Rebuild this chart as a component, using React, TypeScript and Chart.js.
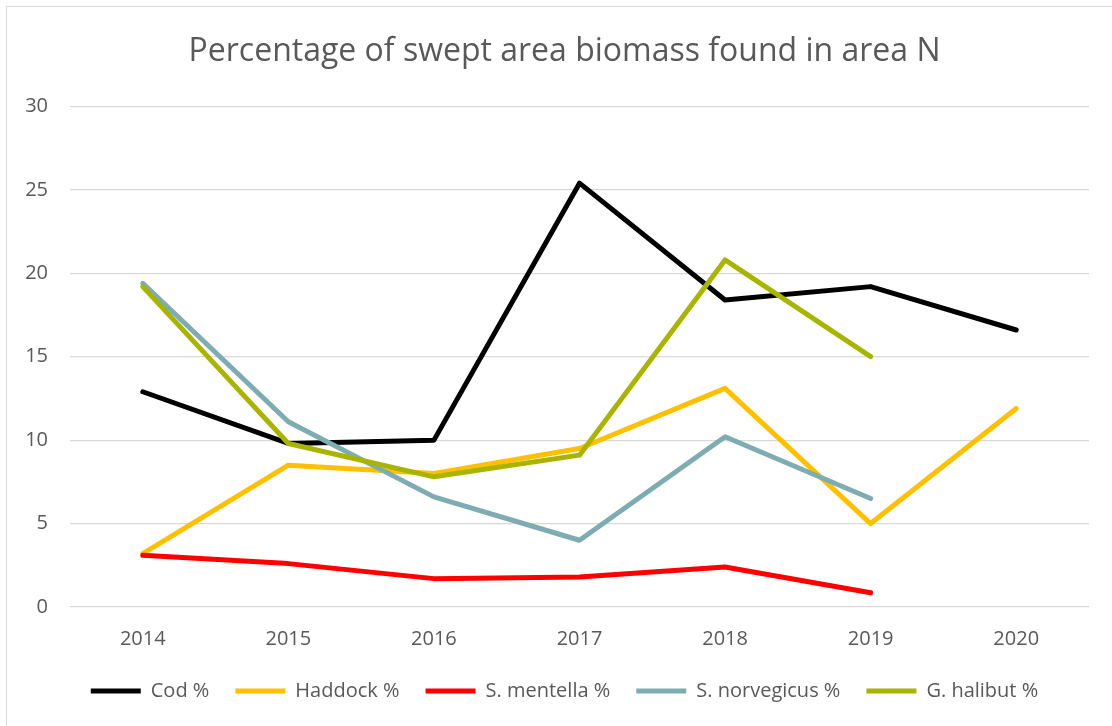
import React, { useEffect, useRef } from "react";
import { Chart, registerables } from "chart.js";

Chart.register(...registerables);

const years = ["2014", "2015", "2016", "2017", "2018", "2019", "2020"];
const cod = [12.9, 9.8, 10.0, 25.4, 18.4, 19.2, 16.6];
const haddock = [3.2, 8.5, 8.0, 9.5, 13.1, 5.0, 11.9];
const sMentella = [3.1, 2.6, 1.7, 1.8, 2.4, 0.85, null];
const sNorvegicus = [19.4, 11.1, 6.6, 4.0, 10.2, 6.5, null];
const gHalibut = [19.2, 9.8, 7.8, 9.1, 20.8, 15.0, null];

const seriesNames = ["Cod %", "Haddock %", "S. mentella %", "S. norvegicus %", "G. halibut %"];
const seriesColors = ["#000000", "#FFC000", "#FF0000", "#7FACB3", "#A8B400"];
const titleText = "Percentage of swept area biomass found in area N";

const FONT = "'Open Sans', 'Liberation Sans', sans-serif";
const TEXT = "#595959";

// shift the full-width title and legend boxes so they are centred like the reference
const centerShift = {
  id: "centerShift",
  afterLayout(chart: any) {
    const shift = 40;
    if (chart.legend) chart.legend.left += shift;
    if (chart.titleBlock) chart.titleBlock.left += shift;
  },
};

export default function App() {
  const ref = useRef<HTMLCanvasElement | null>(null);
  useEffect(() => {
    if (!ref.current) return;
    const values = [cod, haddock, sMentella, sNorvegicus, gHalibut];
    const chart = new Chart(ref.current, {
      type: "line",
      data: {
        labels: years,
        datasets: values.map((v, i) => ({
          label: seriesNames[i],
          data: v,
          borderColor: seriesColors[i],
          backgroundColor: seriesColors[i],
          borderWidth: 5,
          borderCapStyle: "round",
          borderJoinStyle: "round",
          pointRadius: 0,
          pointHoverRadius: 0,
          pointStyle: "line",
          tension: 0,
          spanGaps: false,
          order: values.length - i,
        })),
      },
      plugins: [centerShift],
      options: {
        animation: false,
        responsive: false,
        maintainAspectRatio: false,
        layout: { padding: { left: 0, right: 23, top: 0, bottom: 15 } },
        plugins: {
          tooltip: { enabled: false },
          title: {
            display: true,
            text: titleText,
            color: TEXT,
            font: { family: FONT, size: 32, weight: "normal" },
            padding: { top: 33, bottom: 35 },
          },
          legend: {
            display: true,
            position: "bottom",
            labels: {
              usePointStyle: true,
              pointStyleWidth: 50,
              boxHeight: 20,
              padding: 26,
              color: TEXT,
              font: { family: FONT, size: 20 },
              sort: (a: any, b: any) => a.datasetIndex - b.datasetIndex,
            },
          },
        },
        scales: {
          x: {
            offset: true,
            grid: { display: false, drawTicks: false },
            border: { display: false },
            ticks: { color: TEXT, font: { family: FONT, size: 20 }, padding: 20 },
            afterFit: (s: any) => { s.height = 48; },
          },
          y: {
            min: 0,
            max: 30,
            ticks: { stepSize: 5, color: TEXT, font: { family: FONT, size: 20 }, padding: 22 },
            grid: { color: "#D9D9D9", lineWidth: 1.2, drawTicks: false },
            border: { display: false },
            afterFit: (s: any) => { s.width = 70; },
          },
        },
      },
    });
    return () => chart.destroy();
  }, []);
  return (
    <div>
      <div
        style={{
          position: "fixed",
          left: 6,
          top: 6,
          width: 1120,
          height: 740,
          border: "1px solid #D9D9D9",
          background: "#fff",
          boxSizing: "border-box",
        }}
      />
      <canvas
        ref={ref}
        width={1112}
        height={726}
        style={{ position: "fixed", left: 0, top: 0, width: 1112, height: 726 }}
      />
    </div>
  );
}
